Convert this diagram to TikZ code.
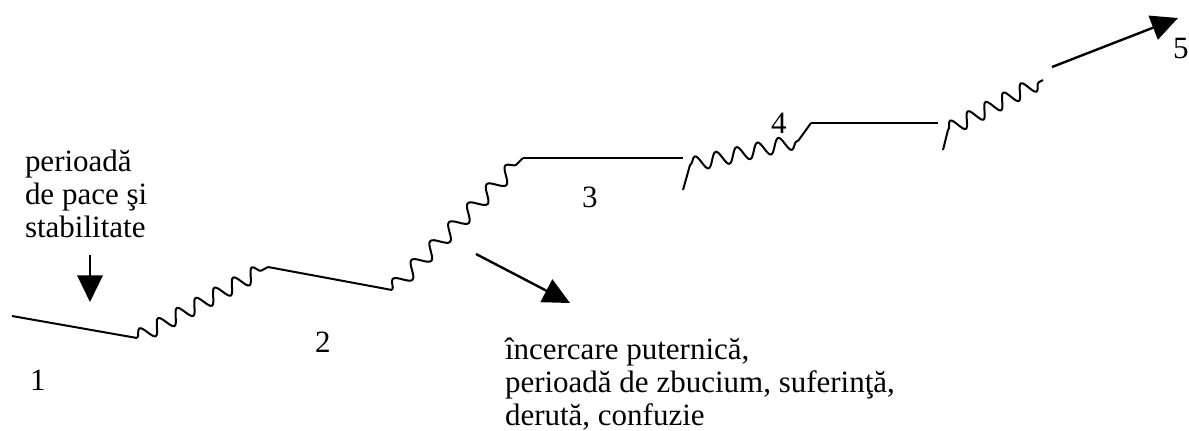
\documentclass[tikz,border=0pt]{standalone}
\usepackage{fontspec}
\setmainfont{Liberation Serif}
\usetikzlibrary{arrows.meta,decorations.pathmorphing}
\begin{document}
\begin{tikzpicture}[x=0.75pt,y=-0.75pt,
  every node/.style={inner sep=0pt,outer sep=0pt,anchor=base west,font=\fontsize{23.25}{24.75}\selectfont},
  stroke/.style={line width=1.5pt},
  wavy/.style={stroke,decorate,decoration={snake,segment length=#1,amplitude=5.5pt}},
  wavy/.default=16pt,
  bigarrow/.style={line width=1.8pt,-{Triangle[length=20pt,width=19pt]}}]
\useasboundingbox (0,0) rectangle (1189,430);
% vertices
\coordinate (a) at (12,316);
\coordinate (b) at (137,338);
\coordinate (c) at (268,267);
\coordinate (d) at (392,290);
\coordinate (e) at (523,158);
\coordinate (f) at (683,158);
\coordinate (g0) at (683,190);
\coordinate (g1) at (690,165);
\coordinate (h) at (798,141);
\coordinate (h1) at (811,123);
\coordinate (i) at (938,123);
\coordinate (j0) at (943,150);
\coordinate (j1) at (948,130);
\coordinate (k) at (1043,80);
\coordinate (s5) at (1052,67);
\coordinate (t5) at (1178,18);
\coordinate (sd) at (90,255);
\coordinate (td) at (90,302);
\coordinate (sm) at (476,254);
\coordinate (tm) at (570,303);
% staircase
\draw[stroke] (a) -- (b);
\draw[wavy=16pt] (b) -- (c);
\draw[stroke] (c) -- (d);
\draw[wavy=20pt] (d) -- (e);
\draw[stroke] (e) -- (f);
\draw[stroke] (g0) -- (g1);
\draw[wavy=16pt] (g1) -- (h);
\draw[stroke] (h) .. controls (806,130) .. (h1);
\draw[stroke] (h1) -- (i);
\draw[stroke] (j0) -- (j1);
\draw[wavy=15pt] (j1) -- (k);
% arrows
\draw[bigarrow] (sd) -- (td);
\draw[bigarrow] (sm) -- (tm);
\draw[bigarrow] (s5) -- (t5);
% labels
\node (l1) at (30,390) {1};
\node (l2) at (315,352) {2};
\node (l3) at (582,207) {3};
\node (l4) at (771,133) {4};
\node (l5) at (1173,58) {5};
\node (p1) at (25,171) {perioadă};
\node (p2) at (25,204) {de pace şi};
\node (p3) at (25,237) {stabilitate};
\node (q1) at (505,359) {încercare puternică,};
\node (q2) at (505,392) {perioadă de zbucium, suferinţă,};
\node (q3) at (505,425) {derută, confuzie};
\end{tikzpicture}
\end{document}
